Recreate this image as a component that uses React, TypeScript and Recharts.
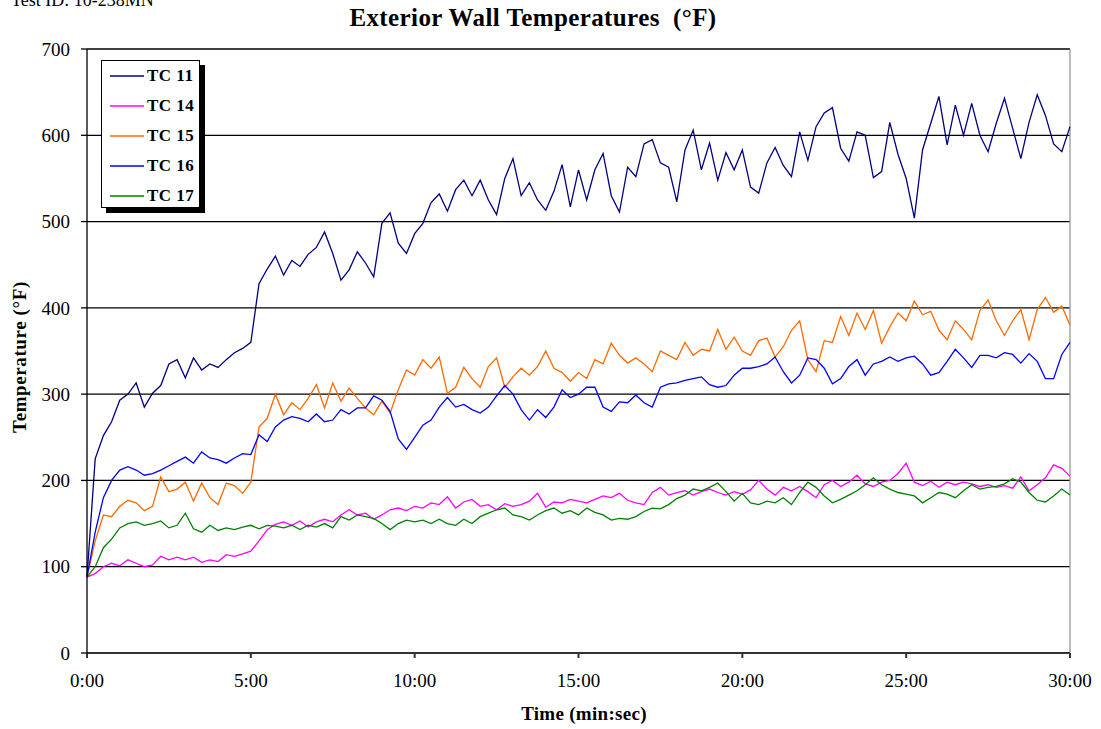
import { CartesianGrid, Line, LineChart, ReferenceLine, XAxis, YAxis } from "recharts";

// sampled every 15 s, 0:00 .. 30:00
const SAMPLE_SECONDS = 15;

const tc11 = [
  88, 225, 252, 268, 293, 300, 313, 285, 301, 310, 335, 340, 319, 342, 328, 335, 331, 340, 348, 353,
  360, 428, 445, 460, 438, 455, 448, 462, 470, 488, 463, 432, 444, 465, 452, 436, 498, 510, 475, 463,
  486, 498, 522, 532, 512, 537, 548, 530, 548, 525, 508, 550, 573, 530, 545, 525, 513, 535, 566, 517,
  560, 525, 560, 579, 530, 511, 563, 552, 590, 595, 568, 563, 523, 583, 606, 560, 591, 548, 580, 560,
  583, 540, 533, 568, 586, 565, 552, 604, 571, 610, 626, 632, 585, 570, 604, 600, 551, 558, 615, 578,
  550, 504, 583, 614, 645, 589, 635, 600, 637, 600, 581, 614, 643, 608, 573, 615, 647, 623, 590, 581,
  610,
];

const tc14 = [
  88, 92, 100, 104, 101, 108, 104, 100, 102, 112, 108, 111, 108, 111, 105, 108, 106, 114, 112, 115,
  118, 130, 143, 149, 152, 148, 153, 146, 152, 155, 152, 160, 166, 160, 162, 155, 160, 166, 168, 165,
  170, 168, 174, 172, 181, 168, 175, 178, 170, 172, 166, 173, 170, 172, 176, 185, 169, 175, 174, 178,
  176, 174, 178, 182, 180, 185, 177, 174, 172, 186, 192, 183, 186, 188, 183, 187, 190, 186, 183, 187,
  184, 189, 200, 190, 183, 192, 188, 193, 187, 180, 195, 200, 193, 198, 206, 196, 193, 198, 200, 208,
  220, 198, 194, 199, 192, 198, 195, 198, 196, 193, 195, 192, 194, 191, 204, 188, 195, 203, 218, 214,
  205,
];

const tc15 = [
  88, 130, 160, 158, 170, 177, 174, 165, 170, 204, 187, 190, 198, 176, 197, 180, 172, 197, 194, 185,
  198, 262, 272, 300, 276, 290, 282, 295, 311, 284, 313, 292, 307, 295, 284, 276, 292, 278, 305, 328,
  322, 340, 330, 343, 301, 308, 331, 318, 308, 332, 342, 308, 320, 330, 322, 332, 350, 330, 325, 315,
  325, 318, 340, 335, 359, 345, 336, 342, 335, 326, 350, 345, 340, 360, 345, 352, 350, 375, 352, 366,
  350, 345, 362, 365, 343, 355, 374, 385, 340, 326, 362, 360, 390, 368, 394, 375, 397, 359, 378, 394,
  385, 408, 392, 396, 374, 363, 385, 375, 363, 397, 409, 385, 368, 385, 398, 363, 398, 412, 395, 402,
  380,
];

const tc16 = [
  88, 140, 180, 200, 212, 216, 212, 206, 208, 212, 217, 222, 227, 220, 233, 226, 224, 220, 226, 231,
  230, 253, 245, 262, 270, 274, 272, 268, 277, 268, 270, 282, 277, 284, 284, 298, 293, 280, 248, 236,
  250, 264, 270, 285, 296, 285, 288, 282, 278, 285, 298, 310, 300, 282, 270, 282, 273, 285, 305, 296,
  300, 308, 308, 285, 280, 291, 290, 299, 290, 285, 308, 312, 313, 316, 318, 320, 311, 308, 310, 322,
  330, 330, 332, 335, 343, 326, 313, 322, 342, 340, 330, 312, 318, 332, 340, 322, 335, 338, 343, 338,
  342, 344, 335, 322, 325, 338, 352, 342, 331, 345, 345, 342, 348, 346, 336, 347, 338, 318, 318, 346,
  360,
];

const tc17 = [
  88, 100, 122, 132, 145, 150, 152, 148, 150, 153, 145, 148, 162, 144, 140, 148, 142, 145, 143, 146,
  148, 144, 148, 147, 145, 148, 143, 148, 146, 150, 145, 158, 154, 160, 158, 156, 150, 143, 150, 154,
  152, 154, 150, 155, 150, 148, 155, 150, 158, 162, 166, 168, 160, 158, 154, 160, 165, 168, 162, 165,
  160, 168, 163, 160, 154, 156, 155, 158, 164, 168, 167, 172, 179, 183, 190, 188, 192, 197, 187, 176,
  185, 174, 172, 176, 174, 180, 172, 186, 198, 192, 182, 174, 178, 183, 188, 195, 203, 195, 190, 186,
  184, 182, 174, 180, 186, 184, 180, 188, 195, 190, 192, 193, 196, 202, 198, 186, 177, 175, 182, 190,
  183,
];

const xTicks = [0, 300, 600, 900, 1200, 1500, 1800];
const yTicks = [0, 100, 200, 300, 400, 500, 600, 700];

const series = [
  { key: "tc11", name: "TC 11", color: "#000080" },
  { key: "tc14", name: "TC 14", color: "#FF00FF" },
  { key: "tc15", name: "TC 15", color: "#FF6A00" },
  { key: "tc16", name: "TC 16", color: "#0000FF" },
  { key: "tc17", name: "TC 17", color: "#008000" },
];

const data = tc11.map((v, i) => ({
  t: i * SAMPLE_SECONDS,
  tc11: v,
  tc14: tc14[i],
  tc15: tc15[i],
  tc16: tc16[i],
  tc17: tc17[i],
}));

const FONT = '"Liberation Serif", "Times New Roman", serif';

const fmtTime = (s: number) => `${Math.floor(s / 60)}:${String(s % 60).padStart(2, "0")}`;

export default function App() {
  return (
    <div style={{ position: "absolute", left: 0, top: 0, width: 1101, height: 729, background: "#fff", fontFamily: FONT, overflow: "hidden" }}>
      <div style={{ position: "absolute", left: 11, top: -9, fontSize: 18, lineHeight: "18px", whiteSpace: "nowrap" }}>Test ID: 10-238MN</div>
      <div
        style={{
          position: "absolute",
          left: 0,
          width: 1066,
          top: 3,
          textAlign: "center",
          fontSize: 25,
          letterSpacing: 0.4,
          fontWeight: "bold",
          lineHeight: "30px",
          whiteSpace: "nowrap",
        }}
      >
        Exterior Wall Temperatures&nbsp; (°F)
      </div>
      <div
        style={{
          position: "absolute",
          left: 20,
          top: 357,
          transform: "translate(-50%, -50%) rotate(-90deg)",
          fontSize: 19,
          letterSpacing: 0.6,
          fontWeight: "bold",
          whiteSpace: "nowrap",
        }}
      >
        Temperature (°F)
      </div>
      <div
        style={{
          position: "absolute",
          left: 0,
          width: 1168,
          top: 703,
          textAlign: "center",
          fontSize: 19,
          letterSpacing: 0.3,
          fontWeight: "bold",
          whiteSpace: "nowrap",
        }}
      >
        Time (min:sec)
      </div>

      <LineChart width={1101} height={729} data={data} margin={{ top: 49, right: 31, bottom: 36, left: 0 }}>
        <CartesianGrid vertical={false} stroke="#000" strokeWidth={1.3} />
        <XAxis
          dataKey="t"
          type="number"
          domain={[0, 1800]}
          ticks={xTicks}
          tickFormatter={fmtTime}
          height={40}
          tickSize={5}
          tickMargin={16}
          stroke="#333"
          strokeWidth={2}
          tick={{ fill: "#000", fontSize: 19, fontFamily: FONT }}
        />
        <YAxis
          type="number"
          domain={[0, 700]}
          ticks={yTicks}
          width={87}
          tickSize={6}
          tickMargin={11}
          stroke="#000"
          strokeWidth={1.3}
          tick={{ fill: "#000", fontSize: 19, fontFamily: FONT }}
        />
        <ReferenceLine x={1800} stroke="#999" strokeWidth={1.3} />
        {series.map((s) => (
          <Line
            key={s.key}
            dataKey={s.key}
            name={s.name}
            type="linear"
            stroke={s.color}
            strokeWidth={1.3}
            dot={false}
            isAnimationActive={false}
          />
        ))}
      </LineChart>

      <div
        style={{
          position: "absolute",
          left: 101,
          top: 60,
          width: 99,
          height: 148,
          background: "#fff",
          border: "1px solid #000",
          boxShadow: "5px 5px 0 #000",
          boxSizing: "border-box",
        }}
      >
        {series.map((s, i) => (
          <div key={s.key} style={{ position: "absolute", left: 8, top: 5 + i * 30, height: 20, display: "flex", alignItems: "center" }}>
            <svg width={34} height={4} style={{ display: "block" }}>
              <line x1={0} y1={2} x2={34} y2={2} stroke={s.color} strokeWidth={1.5} />
            </svg>
            <span style={{ marginLeft: 3, fontSize: 17, letterSpacing: 0.5, fontWeight: "bold", whiteSpace: "nowrap" }}>{s.name}</span>
          </div>
        ))}
      </div>
    </div>
  );
}
